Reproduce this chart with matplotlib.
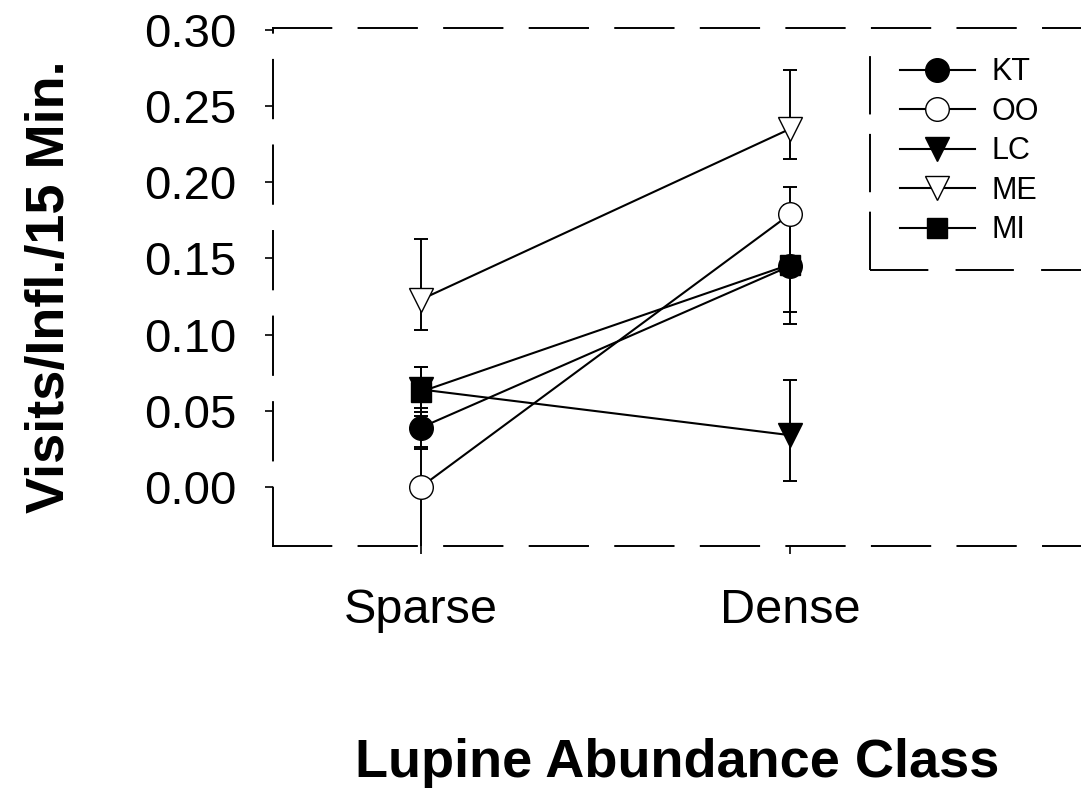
"""
Pollinator visits per inflorescence by lupine abundance class.
"""
import matplotlib
matplotlib.use('Agg')
import matplotlib.pyplot as plt

plt.rcParams['font.family'] = ['Liberation Sans', 'DejaVu Sans']

# Data
classes = ['Sparse', 'Dense']
class_x = [1, 2]
groups = ['KT', 'OO', 'LC', 'ME', 'MI']
means = {
    'KT': [0.039, 0.145],
    'OO': [0.000, 0.179],
    'LC': [0.064, 0.034],
    'ME': [0.123, 0.235],
    'MI': [0.0625, 0.146],
}
err_low = {
    'KT': [0.013, 0.030],
    'OO': [0.046, 0.030],
    'LC': [0.015, 0.030],
    'ME': [0.020, 0.020],
    'MI': [0.016, 0.039],
}
err_high = {
    'KT': [0.013, 0.030],
    'OO': [0.025, 0.018],
    'LC': [0.015, 0.036],
    'ME': [0.040, 0.039],
    'MI': [0.016, 0.039],
}
y_ticks = [0.00, 0.05, 0.10, 0.15, 0.20, 0.25, 0.30]

# marker, face colour for each group
styles = {
    'KT': ('o', 'black'),
    'OO': ('o', 'white'),
    'LC': ('v', 'black'),
    'ME': ('v', 'white'),
    'MI': ('s', 'black'),
}

fig = plt.figure(figsize=(10.81, 7.90), dpi=100)
ax = fig.add_axes([0.2525, 0.309, 0.7475, 0.6556])

for g in groups:
    ax.errorbar(class_x, means[g], yerr=[err_low[g], err_high[g]],
                fmt='none', ecolor='black', elinewidth=1.4,
                capsize=5, capthick=1.4, zorder=2)

for g in groups:
    mk, fc = styles[g]
    ms = 15 if mk == 's' else 17
    ax.plot(class_x, means[g], color='black', lw=1.5,
            marker=mk, markersize=ms, markerfacecolor=fc,
            markeredgecolor='black', markeredgewidth=1.0,
            label=g, zorder=3)

ax.set_xlim(0.599, 2.789)
ax.set_ylim(-0.0387, 0.3013)
ax.set_xticks(class_x)
ax.set_xticklabels(classes)
ax.set_yticks(y_ticks)
ax.set_yticklabels([f'{v:.2f}' for v in y_ticks])
ax.tick_params(axis='both', labelsize=34, direction='out',
               length=6, width=1.2, color='black')
ax.tick_params(axis='x', labelsize=35, pad=24)
ax.tick_params(axis='y', pad=20)

# broken frame like the scanned original
for side in ['left', 'top', 'bottom']:
    ax.spines[side].set_linewidth(1.4)
    ax.spines[side].set_linestyle((0, (30, 14)))
ax.spines['right'].set_visible(False)

ax.set_ylabel('Visits/Infl./15 Min.', fontsize=39, fontweight='bold',
              labelpad=50)
ax.set_xlabel('Lupine Abundance Class', fontsize=39, fontweight='bold',
              labelpad=76)

leg = ax.legend(loc='upper left', bbox_to_anchor=(0.776, 0.943),
                frameon=False, fontsize=22, handlelength=2.45,
                handletextpad=0.55, labelspacing=0.31, borderpad=0,
                borderaxespad=0)

# legend box edges (left and bottom only are visible)
ax.plot([0.739, 0.739], [0.533, 0.977], transform=ax.transAxes,
        color='black', lw=1.4, ls=(0, (30, 10)), clip_on=False)
ax.plot([0.739, 1.0], [0.533, 0.533], transform=ax.transAxes,
        color='black', lw=1.4, ls=(0, (30, 14)), clip_on=False)

fig.savefig('out.png', dpi=100)
